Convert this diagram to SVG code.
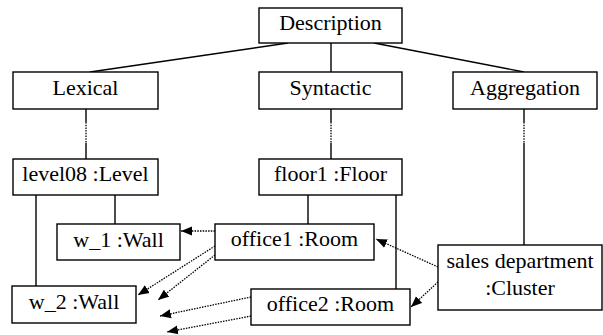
<svg xmlns="http://www.w3.org/2000/svg" width="603" height="335" viewBox="0 0 603 335">
<style>
.box{fill:#fff;stroke:#000;stroke-width:1.4}
.t{font-family:"Liberation Serif","Times New Roman",serif;font-size:22px;fill:#000;text-anchor:middle}
.ln{stroke:#000;stroke-width:1.4;fill:none}
.dt{stroke:#000;stroke-width:1.3;fill:none;stroke-dasharray:1.5 1.2}
.ar{stroke:#000;stroke-width:1.3;fill:none;stroke-dasharray:1.5 1.2;marker-end:url(#ah)}
</style>
<defs>
<marker id="ah" markerUnits="userSpaceOnUse" markerWidth="12" markerHeight="10" refX="11" refY="5" orient="auto">
<path d="M0,0.5 L11,5 L0,9.5 Z" fill="#000"/>
</marker>
</defs>
<rect width="603" height="335" fill="#fff"/>
<g id="connectors">
<line class="ln" x1="288" y1="43" x2="90" y2="72"/>
<line class="ln" x1="331" y1="43" x2="331" y2="72"/>
<line class="ln" x1="374" y1="43" x2="524" y2="72"/>
<line class="ln" x1="86" y1="109" x2="86" y2="122"/>
<line class="dt" x1="86" y1="122" x2="86" y2="143"/>
<line class="ln" x1="86" y1="143" x2="86" y2="159"/>
<line class="ln" x1="331" y1="109" x2="331" y2="122"/>
<line class="dt" x1="331" y1="122" x2="331" y2="143"/>
<line class="ln" x1="331" y1="143" x2="331" y2="159"/>
<line class="ln" x1="524" y1="109" x2="524" y2="122"/>
<line class="dt" x1="524" y1="122" x2="524" y2="143"/>
<line class="ln" x1="524" y1="143" x2="524" y2="245"/>
<line class="ln" x1="115" y1="195" x2="115" y2="224"/>
<line class="ln" x1="36" y1="195" x2="36" y2="286"/>
<line class="ln" x1="308" y1="195" x2="308" y2="224"/>
<line class="ln" x1="396" y1="195" x2="396" y2="289"/>
<line class="ar" x1="215" y1="231" x2="181" y2="231"/>
<line class="ar" x1="215" y1="246" x2="138" y2="295"/>
<line class="ar" x1="215" y1="255" x2="158" y2="300"/>
<line class="ar" x1="251" y1="297" x2="160" y2="316"/>
<line class="ar" x1="251" y1="316" x2="167" y2="332"/>
<line class="ar" x1="438" y1="267" x2="376" y2="239"/>
<line class="ar" x1="438" y1="282" x2="411" y2="307"/>
</g>
<g id="description"><rect class="box" x="259" y="8" width="143" height="35"/><text class="t" x="330.5" y="30">Description</text></g>
<g id="lexical"><rect class="box" x="13" y="72" width="145" height="37"/><text class="t" x="85.5" y="95">Lexical</text></g>
<g id="syntactic"><rect class="box" x="259" y="72" width="143" height="37"/><text class="t" x="330.5" y="95">Syntactic</text></g>
<g id="aggregation"><rect class="box" x="453" y="72" width="144" height="37"/><text class="t" x="525" y="95">Aggregation</text></g>
<g id="level08"><rect class="box" x="13" y="159" width="145" height="36"/><text class="t" x="85.5" y="181">level08 :Level</text></g>
<g id="floor1"><rect class="box" x="259" y="159" width="143" height="36"/><text class="t" x="330.5" y="181">floor1 :Floor</text></g>
<g id="w_1"><rect class="box" x="57" y="224" width="123" height="36"/><text class="t" x="118.5" y="246.5">w_1 :Wall</text></g>
<g id="office1"><rect class="box" x="215" y="224" width="159" height="36"/><text class="t" x="294.5" y="246">office1 :Room</text></g>
<g id="w_2"><rect class="box" x="12" y="286" width="124" height="37"/><text class="t" x="74" y="309">w_2 :Wall</text></g>
<g id="office2"><rect class="box" x="251" y="289" width="159" height="36"/><text class="t" x="330.5" y="311">office2 :Room</text></g>
<g id="cluster"><rect class="box" x="438" y="245" width="164" height="65"/><text class="t" x="520" y="268">sales department</text><text class="t" x="520" y="295">:Cluster</text></g>
</svg>
